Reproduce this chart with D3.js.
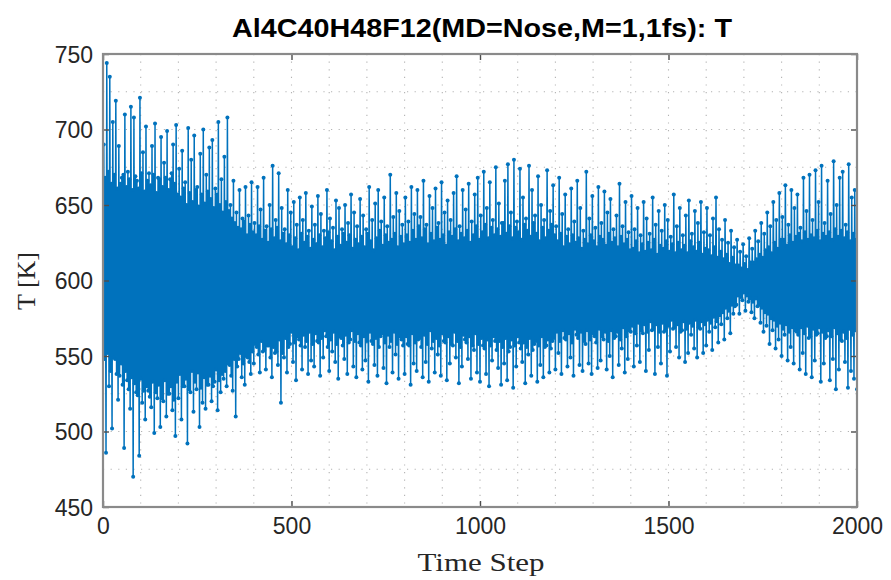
<!DOCTYPE html>
<html>
<head>
<meta charset="utf-8">
<script src="https://cdn.jsdelivr.net/npm/d3@7/dist/d3.min.js"></script>
<style>
  html, body { margin: 0; padding: 0; background: #fff; }
  svg { display: block; }
</style>
</head>
<body>
<svg id="chart" width="891" height="580"></svg>
<script>
// ---- data (temperature [K], sampled every 2 time steps, t = 0..2000) ----
const sampleStep = 2;
const temperature = [
580,690,548,668,486,744,552,672,530,735,540,664,502,705,549,670,548,719,538,661,
521,689,537,664,545,668,531,670,489,710,540,662,534,672,528,667,515,715,536,660,
470,708,532,669,526,666,524,661,484,721,535,671,519,685,527,659,508,702,530,666,
527,671,523,663,516,689,533,670,499,704,526,658,522,668,531,667,503,695,522,662,
520,678,534,668,510,699,525,660,525,667,530,671,514,690,521,664,497,703,533,657,
522,674,538,655,508,686,530,661,530,665,535,650,492,701,528,658,526,680,540,652,
513,696,533,660,528,662,539,649,503,684,529,657,519,700,536,651,515,670,531,659,
531,688,537,654,520,693,530,648,533,661,541,657,514,705,534,650,526,667,538,645,
535,682,540,652,530,708,545,646,544,650,537,641,527,666,548,638,510,645,543,635,
548,660,552,634,536,641,545,639,531,662,550,630,549,643,546,637,538,665,553,632,
545,638,558,630,556,662,551,636,539,647,560,627,553,668,554,633,541,636,557,625,
557,650,549,634,536,676,556,628,552,640,553,635,544,671,561,626,519,648,552,631,
549,634,562,624,539,660,556,630,558,645,566,622,546,652,559,628,534,637,563,620,
561,655,557,631,541,640,564,625,556,658,560,629,538,633,566,621,547,649,558,627,
543,637,565,624,560,656,559,630,537,644,562,622,549,633,567,628,563,660,556,632,
540,641,561,626,553,635,566,620,546,653,558,629,535,648,563,623,562,634,557,631,
548,650,564,625,538,638,559,630,561,657,567,621,543,645,560,627,536,636,565,624,
559,654,557,629,541,643,563,622,547,634,560,631,533,662,566,626,560,640,558,620,
544,651,562,628,537,660,556,633,563,639,565,623,542,655,559,630,532,636,564,625,
556,670,560,627,539,642,566,631,551,658,558,622,535,646,563,629,561,637,557,624,
538,655,563,630,558,639,557,625,531,662,565,633,545,644,559,627,540,660,561,636,
562,642,556,628,536,666,564,634,546,637,558,624,533,656,567,631,555,648,560,626,
539,661,562,635,551,638,557,627,537,665,565,630,560,645,559,623,534,653,563,632,
545,640,558,629,557,658,566,634,549,669,560,626,532,636,556,631,543,660,564,628,
561,647,559,633,548,664,563,625,535,639,557,630,554,657,565,636,539,668,558,627,
533,643,562,632,557,672,555,637,538,648,561,628,530,665,557,635,547,640,563,630,
560,675,554,634,542,651,560,629,531,638,556,638,545,666,562,631,534,677,553,636,
556,645,561,628,529,680,557,635,543,639,563,632,559,674,555,627,546,655,559,637,
532,641,556,633,551,676,562,629,537,660,554,638,558,643,560,631,533,669,557,626,
544,650,563,635,536,640,556,628,557,673,561,633,539,646,555,637,560,663,562,630,
541,636,566,626,552,668,560,631,538,644,567,622,562,657,561,629,543,634,565,624,
549,661,559,630,537,639,568,625,564,666,562,628,544,648,566,621,540,633,560,627,
558,672,567,624,545,641,561,630,538,656,565,626,563,635,559,622,542,662,568,629,
547,638,563,627,561,659,566,623,541,645,560,631,550,654,567,625,536,634,562,628,
563,643,566,622,544,664,561,629,555,636,569,624,539,652,563,627,548,632,567,620,
566,656,570,621,543,634,565,626,557,648,572,618,546,630,567,624,565,652,571,619,
540,641,566,625,554,631,573,620,567,655,568,627,538,637,571,617,556,646,566,623,
545,633,572,621,566,650,567,626,537,640,570,619,553,629,574,624,568,657,569,618,
556,636,571,625,549,648,566,620,567,630,573,623,546,643,568,618,552,653,572,626,
564,631,570,622,555,646,574,619,549,638,569,625,568,652,573,617,552,632,571,621,
557,648,574,620,566,630,572,616,554,641,576,622,569,655,573,615,559,634,577,619,
571,627,579,614,561,640,582,617,575,625,580,611,565,633,584,615,578,622,583,610,
584,627,590,610,578,619,589,608,587,624,592,611,580,616,590,607,586,628,588,612,
579,621,586,612,575,633,588,614,583,626,584,617,572,638,582,615,566,631,579,620,
570,645,578,622,558,636,575,618,567,652,574,625,555,640,570,621,561,658,572,627,
550,642,568,627,564,663,571,623,547,637,566,630,556,660,569,625,545,648,567,629,
566,657,564,631,541,635,569,626,552,668,565,632,538,646,570,627,562,670,563,630,
536,640,568,628,547,673,564,633,565,652,569,626,533,676,566,631,545,638,562,629,
563,666,567,632,534,644,563,627,548,679,569,634,528,650,565,629,541,668,561,633,
560,672,566,628,546,637,562,632,529,677,568,626,540,655,564,631,535,660,567,627,
528
];
const xTicks = [0, 500, 1000, 1500, 2000];
const yTicks = [450, 500, 550, 600, 650, 700, 750];
const xDomain = [0, 2000];
const yDomain = [450, 750];
const xGridStep = 100;
const yGridStep = 25;
const titleText = "Al4C40H48F12(MD=Nose,M=1,1fs): T";
const xLabelText = "Time Step";
const yLabelText = "T [K]";

// ---- layout ----
const svg = d3.select("#chart");
const L = 103, R = 857, T = 54, B = 507;
const x = d3.scaleLinear().domain(xDomain).range([L, R]);
const y = d3.scaleLinear().domain(yDomain).range([B, T]);
const lineColor = "#0072BD";

const points = temperature.map((v, i) => ({ t: i * sampleStep, v }));

// grid (dotted)
const gridG = svg.append("g").attr("stroke", "#b3b3b3").attr("stroke-width", 1.1)
  .attr("stroke-dasharray", "1.2,6.4");
d3.range(xDomain[0] + xGridStep, xDomain[1], xGridStep).forEach(t => {
  gridG.append("line").attr("x1", x(t)).attr("x2", x(t)).attr("y1", T).attr("y2", B);
});
d3.range(yDomain[0] + yGridStep, yDomain[1], yGridStep).forEach(v => {
  gridG.append("line").attr("x1", L).attr("x2", R).attr("y1", y(v)).attr("y2", y(v));
});

// data line + markers
svg.append("clipPath").attr("id", "clip").append("rect")
  .attr("x", L).attr("y", T).attr("width", R - L).attr("height", B - T);
const dataG = svg.append("g").attr("clip-path", "url(#clip)");
const line = d3.line().x(d => x(d.t)).y(d => y(d.v));
dataG.append("path").datum(points).attr("d", line)
  .attr("fill", "none").attr("stroke", lineColor).attr("stroke-width", 1.5)
  .attr("stroke-linejoin", "round");
dataG.selectAll("circle").data(points).enter().append("circle")
  .attr("cx", d => x(d.t)).attr("cy", d => y(d.v)).attr("r", 2.0)
  .attr("fill", lineColor);

// axes with inward ticks
const tickLen = 6;
const bottomAxis = d3.axisBottom(x).tickValues(xTicks).tickSize(-tickLen).tickFormat(d3.format("d"));
const topAxis = d3.axisTop(x).tickValues(xTicks).tickSize(-tickLen).tickFormat("");
const leftAxis = d3.axisLeft(y).tickValues(yTicks).tickSize(-tickLen).tickFormat(d3.format("d"));
const rightAxis = d3.axisRight(y).tickValues(yTicks).tickSize(-tickLen).tickFormat("");

function styleAxis(g) {
  g.select(".domain").remove();
  g.selectAll(".tick line").attr("stroke", "#4d4d4d").attr("stroke-width", 1.4);
  g.selectAll(".tick text").attr("fill", "#262626")
    .style("font-family", "'Liberation Sans', Arial, sans-serif").style("font-size", "23px");
}
const gb = svg.append("g").attr("transform", `translate(0,${B})`).call(bottomAxis).call(styleAxis);
gb.selectAll(".tick text").attr("dy", "0.71em").attr("y", 11);
svg.append("g").attr("transform", `translate(0,${T})`).call(topAxis).call(styleAxis);
const gl = svg.append("g").attr("transform", `translate(${L},0)`).call(leftAxis).call(styleAxis);
gl.selectAll(".tick text").attr("x", -10).attr("dy", "0.36em");
svg.append("g").attr("transform", `translate(${R},0)`).call(rightAxis).call(styleAxis);

// box
svg.append("rect").attr("x", L).attr("y", T).attr("width", R - L).attr("height", B - T)
  .attr("fill", "none").attr("stroke", "#8a8a8a").attr("stroke-width", 2.2);

// title
svg.append("text").attr("x", 482).attr("y", 37).attr("text-anchor", "middle")
  .style("font-family", "'Liberation Sans', Arial, sans-serif").style("font-weight", "bold")
  .style("font-size", "25px").attr("fill", "#000")
  .attr("textLength", 500).attr("lengthAdjust", "spacingAndGlyphs")
  .text(titleText);

// axis labels
svg.append("text").attr("x", 481).attr("y", 571).attr("text-anchor", "middle")
  .style("font-family", "'Liberation Serif', 'Times New Roman', serif")
  .style("font-size", "26px").attr("fill", "#262626")
  .attr("textLength", 127).attr("lengthAdjust", "spacingAndGlyphs")
  .text(xLabelText);
svg.append("text").attr("transform", "translate(35,281) rotate(-90)").attr("text-anchor", "middle")
  .style("font-family", "'Liberation Serif', 'Times New Roman', serif")
  .style("font-size", "26px").attr("fill", "#262626")
  .text(yLabelText);
</script>
</body>
</html>
